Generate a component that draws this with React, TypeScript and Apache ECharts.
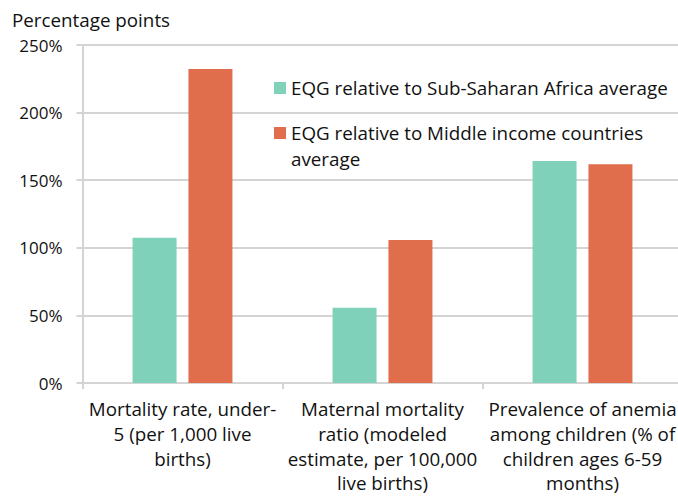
import React, { useEffect, useRef } from "react";
import * as echarts from "echarts";

const categories = [
  "Mortality rate, under-\n5 (per 1,000 live\nbirths)",
  "Maternal mortality\nratio (modeled\nestimate, per 100,000\nlive births)",
  "Prevalence of anemia\namong children (% of\nchildren ages 6-59\nmonths)",
];
const seriesNames = [
  "EQG relative to Sub-Saharan Africa average",
  "EQG relative to Middle income countries average",
];
const ssaValues = [107.5, 55.7, 164.2];
const micValues = [232.2, 105.8, 161.8];
const yTicks = { min: 0, max: 250, interval: 50 };
const yAxisTitle = "Percentage points";

const FONT = "'Open Sans', sans-serif";
const GRID = "#d4d4d4";
const TEAL = "#80D1BA";
const ORANGE = "#E06E4C";
const TEXT = "#111111";
const TXT_SIZE = 18.8;

export default function App() {
  const ref = useRef<HTMLDivElement>(null);
  useEffect(() => {
    if (!ref.current) return;
    const chart = echarts.init(ref.current, undefined, { renderer: "svg" });
    chart.setOption({
      animation: false,
      title: {
        text: yAxisTitle,
        left: 12,
        top: 10,
        padding: 0,
        textStyle: { fontFamily: FONT, fontSize: TXT_SIZE, fontWeight: "normal", color: TEXT },
      },
      grid: {
        left: 82.5,
        right: -4.5,
        top: 45,
        bottom: 115,
        containLabel: false,
        outerBoundsMode: "none",
      },
      legend: [
        {
          data: [seriesNames[0]],
          left: 274,
          top: 75,
          padding: 0,
          orient: "vertical",
          icon: "rect",
          itemWidth: 12,
          itemHeight: 12,
          textStyle: { fontFamily: FONT, fontSize: TXT_SIZE, color: TEXT, lineHeight: 26 },
        },
        {
          data: [seriesNames[1]],
          left: 274,
          top: 94,
          padding: 0,
          orient: "vertical",
          icon: "rect",
          itemWidth: 12,
          itemHeight: 12,
          formatter: () => "\u00a0\nEQG relative to Middle income countries\naverage",
          textStyle: { fontFamily: FONT, fontSize: TXT_SIZE, color: TEXT, lineHeight: 26 },
        },
      ],
      xAxis: {
        type: "category",
        data: categories,
        axisLine: { show: true, lineStyle: { color: GRID, width: 2 } },
        axisTick: { show: true, length: 6, lineStyle: { color: GRID, width: 2 } },
        axisLabel: {
          interval: 0,
          margin: 14,
          fontFamily: FONT,
          fontSize: TXT_SIZE,
          lineHeight: 24.6,
          color: TEXT,
          align: "center",
        },
      },
      yAxis: {
        type: "value",
        min: yTicks.min,
        max: yTicks.max,
        interval: yTicks.interval,
        axisLine: { show: true, lineStyle: { color: GRID, width: 2 } },
        axisTick: { show: true, length: 6, lineStyle: { color: GRID, width: 2 } },
        splitLine: { show: true, lineStyle: { color: GRID, width: 2 } },
        axisLabel: {
          formatter: "{value}%",
          margin: 20,
          fontFamily: FONT,
          fontSize: 17,
          color: TEXT,
        },
      },
      series: [
        {
          name: seriesNames[0],
          type: "bar",
          data: ssaValues,
          itemStyle: { color: TEAL },
          barWidth: 44,
          barGap: "27%",
        },
        {
          name: seriesNames[1],
          type: "bar",
          data: micValues,
          itemStyle: { color: ORANGE },
          barWidth: 44,
          barGap: "27%",
        },
      ],
    });
    return () => chart.dispose();
  }, []);
  return <div ref={ref} style={{ width: 678, height: 498, position: "absolute", left: 0, top: 0 }} />;
}
